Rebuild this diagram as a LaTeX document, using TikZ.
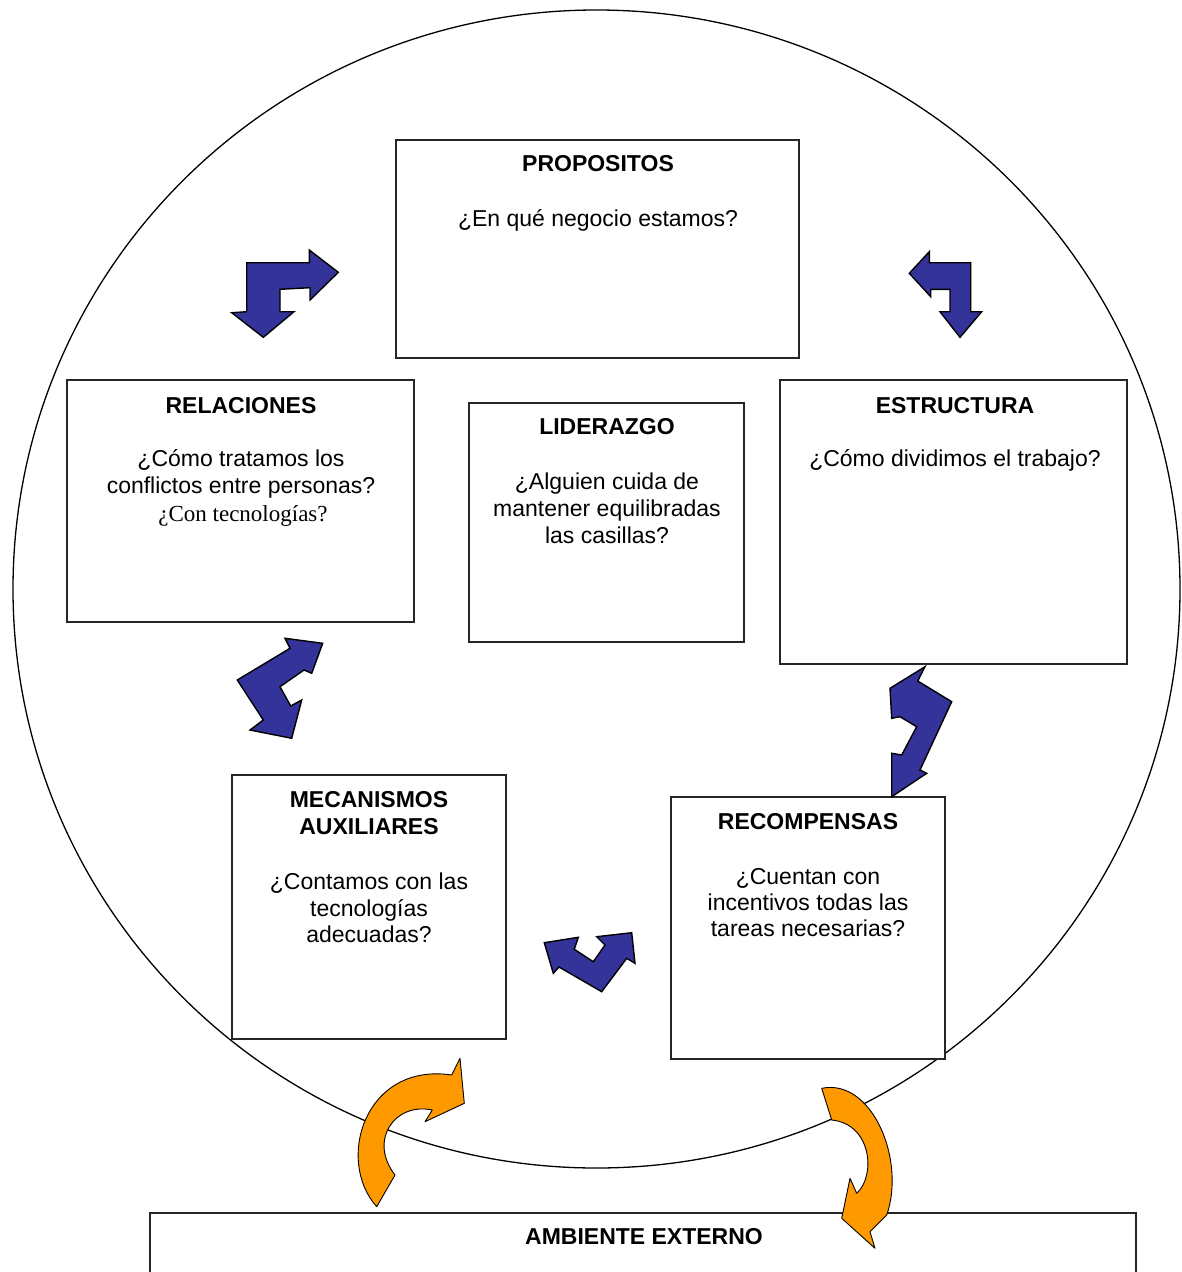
\documentclass[tikz,border=0pt]{standalone}
\usepackage{fontspec}
\setmainfont{Liberation Sans}
\newfontfamily\serifx{Liberation Serif}
\definecolor{navyarrow}{RGB}{51,51,153}
\definecolor{orangearrow}{RGB}{255,153,0}
\begin{document}
\begin{tikzpicture}[x=1pt,y=-1pt,
  box/.style={draw=black!85, line width=1.3pt, fill=white, inner sep=0pt, outer sep=0pt},
  lbl/.style={anchor=base, inner sep=0pt, font=\fontsize{23}{27}\selectfont},
  ttl/.style={lbl, font=\fontsize{23}{27}\selectfont\bfseries},
  barrow/.style={fill=navyarrow, draw=black, line width=1.4pt, line join=miter},
  oarrow/.style={fill=orangearrow, draw=black, line width=0.9pt, line join=round}]
\clip (0,0) rectangle (1182,1272);
\fill[white] (0,0) rectangle (1182,1272);
% big circle
\draw[line width=1.3pt] (596.5,589) ellipse [x radius=583.5, y radius=579];
% boxes
\node[box, minimum width=403pt, minimum height=218pt] (prop) at (597.5,249) {};
\node[box, minimum width=347pt, minimum height=242pt] (rel) at (240.5,501) {};
\node[box, minimum width=275pt, minimum height=239pt] (lid) at (606.5,522.5) {};
\node[box, minimum width=347pt, minimum height=284pt] (est) at (953.5,522) {};
\node[box, minimum width=274pt, minimum height=264pt] (mec) at (369,907) {};
\node[box, minimum width=274pt, minimum height=262pt] (rec) at (808,928) {};
\node[box, minimum width=986pt, minimum height=100pt] (amb) at (643,1263) {};
% texts
\node[ttl] (t1) at (598,171) {PROPOSITOS};
\node[lbl] (t1a) at (598,226) {¿En qué negocio estamos?};
\node[ttl] (t2) at (241,413) {RELACIONES};
\node[lbl] (t2a) at (241,466) {¿Cómo tratamos los};
\node[lbl] (t2b) at (241,493) {conflictos entre personas?};
\node[lbl, font=\fontsize{23}{27}\selectfont\serifx] (t2c) at (243,521) {¿Con tecnologías?};
\node[ttl] (t3) at (607,434) {LIDERAZGO};
\node[lbl] (t3a) at (607,489) {¿Alguien cuida de};
\node[lbl] (t3b) at (607,516) {mantener equilibradas};
\node[lbl] (t3c) at (607,543) {las casillas?};
\node[ttl] (t4) at (955,413) {ESTRUCTURA};
\node[lbl] (t4a) at (955,466) {¿Cómo dividimos el trabajo?};
\node[ttl] (t5) at (369,807) {MECANISMOS};
\node[ttl] (t5b) at (369,834) {AUXILIARES};
\node[lbl] (t5c) at (369,889) {¿Contamos con las};
\node[lbl] (t5d) at (369,916) {tecnologías};
\node[lbl] (t5e) at (369,942) {adecuadas?};
\node[ttl] (t6) at (808,829) {RECOMPENSAS};
\node[lbl] (t6a) at (808,884) {¿Cuentan con};
\node[lbl] (t6b) at (808,910) {incentivos todas las};
\node[lbl] (t6c) at (808,936) {tareas necesarias?};
\node[ttl] (t7) at (644,1244) {AMBIENTE EXTERNO};
% blue bent arrows
\draw[barrow] (338.3,272.3) -- (309.3,250) -- (309.3,262.7) -- (246.7,262.7) -- (246.7,311.7)
  -- (231.7,312.7) -- (263.3,337.3) -- (294,311.7) -- (280,311.7) -- (280,289.3)
  -- (310,287.7) -- (310,300) -- cycle;
\draw[barrow] (909.3,273.3) -- (929.3,251.7) -- (929.3,262.7) -- (970.7,262.7) -- (970.7,311.7)
  -- (981.7,311.7) -- (960,337.3) -- (940,311.7) -- (950,311.7) -- (950,289.3)
  -- (930.7,289.3) -- (930.7,296.7) -- cycle;
\draw[barrow] (285,638.3) -- (322.7,643.3) -- (311.7,673.3) -- (304,670) -- (280,686.7)
  -- (290.7,706) -- (301.7,700) -- (291.7,738.3) -- (250,730) -- (263.3,720)
  -- (237.3,680) -- (290,648.3) -- cycle;
\draw[barrow] (925,666.7) -- (890,688.3) -- (891.7,718.3) -- (900,716.7) -- (916.7,726.7)
  -- (901.7,755) -- (891.7,753.3) -- (891.7,796.7) -- (926.7,773.3) -- (920,770)
  -- (951.7,701.7) -- (917.7,681) -- cycle;
\draw[barrow] (544.3,942.7) -- (578.3,937.3) -- (574.3,949.3) -- (593.3,961.7) -- (605,945)
  -- (596.7,936.7) -- (631.7,932.7) -- (635,963.3) -- (626.7,958.3) -- (601.7,991.7)
  -- (559,967) -- (553.3,973.3) -- cycle;
% orange curved arrows
\draw[oarrow] (376.7,1206.7) .. controls (335,1160) and (365,1062) .. (451.7,1075)
  -- (460,1058.3) -- (464.3,1103.3) -- (425,1121.7) -- (432.3,1110)
  .. controls (395,1102) and (368,1140) .. (395,1175) -- cycle;
\draw[oarrow] (821.7,1088.3) .. controls (872,1078) and (906,1160) .. (886.7,1215)
  -- (870,1231.7) -- (875,1248.3) -- (841.7,1218.3) -- (850,1178.3) -- (856.7,1193.3)
  .. controls (876,1176) and (872,1124) .. (831.7,1120) -- cycle;
\end{tikzpicture}
\end{document}
